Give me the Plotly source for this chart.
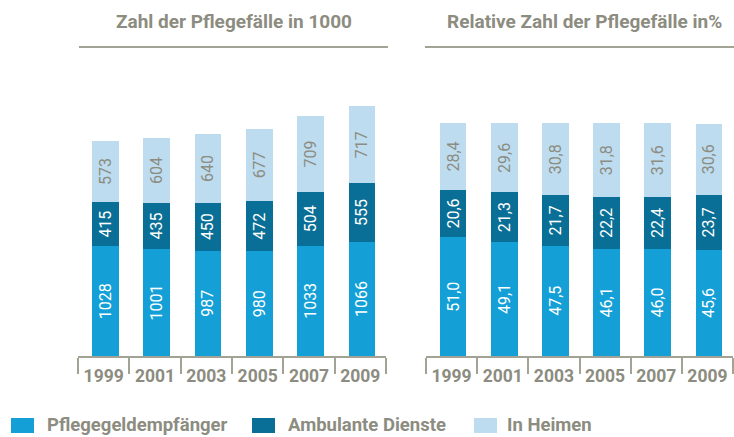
import plotly.graph_objects as go

years = ["1999", "2001", "2003", "2005", "2007", "2009"]
series_names = ["Pflegegeldempfänger", "Ambulante Dienste", "In Heimen"]

abs_pflegegeld = [1028, 1001, 987, 980, 1033, 1066]
abs_ambulant = [415, 435, 450, 472, 504, 555]
abs_heime = [573, 604, 640, 677, 709, 717]

rel_pflegegeld = [51.0, 49.1, 47.5, 46.1, 46.0, 45.6]
rel_ambulant = [20.6, 21.3, 21.7, 22.2, 22.4, 23.7]
rel_heime = [28.4, 29.6, 30.8, 31.8, 31.6, 30.6]

colors = ["#14a0d6", "#0a6f96", "#bddcf0"]
text_colors = ["white", "white", "#8c8c80"]
gray = "#8c8c80"
line_gray = "#a3a395"
FONT = "Roboto, sans-serif"

fig = go.Figure()

def fmt_de(v):
    return f"{v:.1f}".replace(".", ",")

abs_series = [abs_pflegegeld, abs_ambulant, abs_heime]
rel_series = [rel_pflegegeld, rel_ambulant, rel_heime]

for i, name in enumerate(series_names):
    fig.add_trace(go.Bar(
        x=years, y=abs_series[i], name=name, xaxis="x", yaxis="y",
        marker=dict(color=colors[i], line=dict(width=0)),
        text=[str(v) for v in abs_series[i]], textposition="inside",
        insidetextanchor="middle", textangle=-90,
        textfont=dict(color=text_colors[i], size=16, family=FONT),
        showlegend=False, width=0.52, offset=-0.23, hoverinfo="skip",
    ))
    fig.add_trace(go.Bar(
        x=years, y=rel_series[i], name=name, xaxis="x2", yaxis="y2",
        marker=dict(color=colors[i], line=dict(width=0)),
        text=[fmt_de(v) for v in rel_series[i]], textposition="inside",
        insidetextanchor="middle", textangle=-90,
        textfont=dict(color=text_colors[i], size=16, family=FONT),
        showlegend=False, width=0.52, offset=-0.23, hoverinfo="skip",
    ))

xaxis_common = dict(
    type="category", showgrid=False, zeroline=False,
    showline=True, linecolor=line_gray, linewidth=2,
    ticks="outside", tickson="boundaries", ticklen=16, tickwidth=2, tickcolor=line_gray,
    tickfont=dict(family=FONT, size=17.5, color=gray, weight="bold"),
    ticklabelstandoff=3,
    range=[-0.5, 5.5], fixedrange=True,
)

fig.update_layout(
    width=734, height=437,
    margin=dict(l=0, r=0, t=47, b=81),
    paper_bgcolor="white", plot_bgcolor="white",
    barmode="stack",
    uniformtext=dict(minsize=16, mode="show"),
    xaxis=dict(domain=[78/734, 386/734], anchor="y", **xaxis_common),
    xaxis2=dict(domain=[426/734, 733/734], anchor="y2", **xaxis_common),
    yaxis=dict(domain=[0, 1], range=[0, 2895], visible=False, anchor="x", fixedrange=True),
    yaxis2=dict(domain=[0, 1], range=[0, 132.9], visible=False, anchor="x2", fixedrange=True),
    font=dict(family=FONT, color=gray),
    showlegend=False,
)

PH = 309.0
def py(pix):
    return (356 - pix) / PH

titles = [
    ("Zahl der Pflegefälle in 1000", 234, 22),
    ("Relative Zahl der Pflegefälle in%", 584, 22),
]
for text, x, y in titles:
    fig.add_annotation(
        x=x / 734, y=py(y), xref="paper", yref="paper",
        text=f"<b>{text}</b>", showarrow=False, xanchor="center", yanchor="middle",
        font=dict(family=FONT, size=19, color=gray),
    )

for x0, x1 in [(79, 388), (425, 734)]:
    fig.add_shape(type="line", xref="paper", yref="paper",
                  x0=x0/734, x1=x1/734, y0=py(47), y1=py(47),
                  line=dict(color=line_gray, width=2))

# Legend drawn manually
legend_items = [(11, 45), (252, 286), (474, 505)]
for (sx, tx), name, c in zip(legend_items, series_names, colors):
    fig.add_shape(type="rect", xref="paper", yref="paper",
                  x0=sx/734, x1=(sx + 23)/734, y0=py(433), y1=py(418),
                  fillcolor=c, line=dict(width=0))
    fig.add_annotation(x=tx/734, y=py(425), xref="paper", yref="paper",
                       text=f"<b>{name}</b>", showarrow=False, xanchor="left", yanchor="middle",
                       font=dict(family=FONT, size=18.5, color=gray))

fig.write_html("out.html", config={"displayModeBar": False},
               post_script="document.body.style.margin='0';")
